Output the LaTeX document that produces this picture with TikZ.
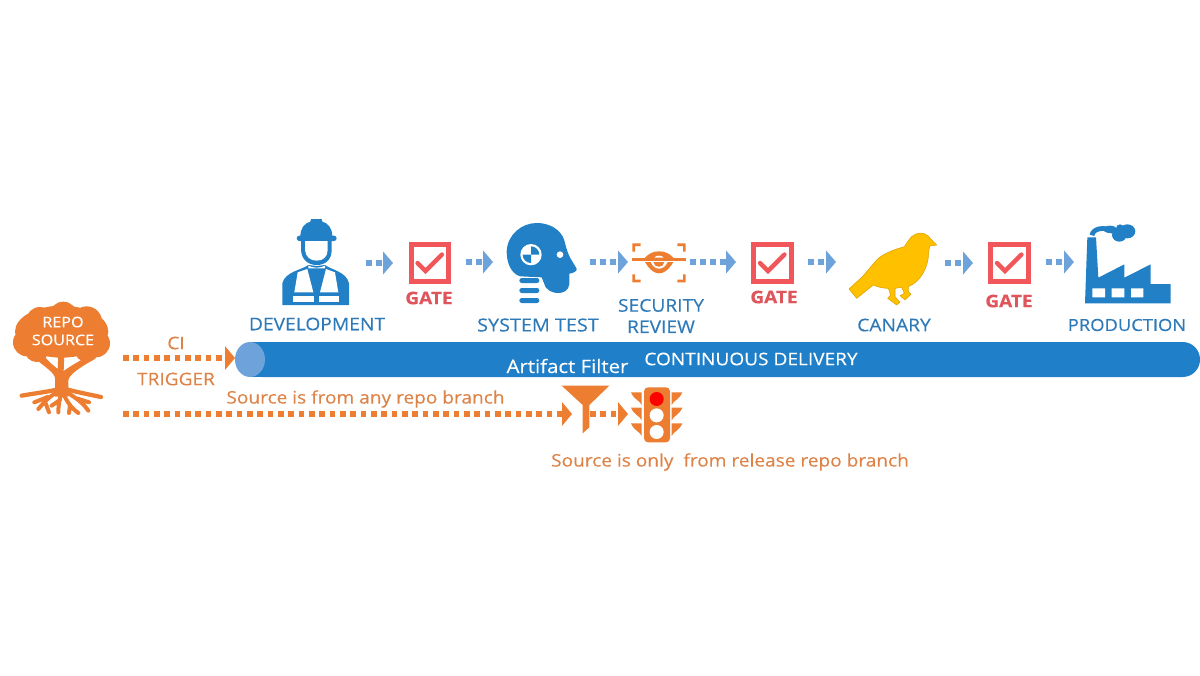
\documentclass[tikz,border=0pt]{standalone}
\usepackage{fontspec}
\setmainfont[FakeStretch=1.1,FakeBold=0.25]{Open Sans}
\usetikzlibrary{arrows.meta}
\definecolor{org}{HTML}{ED7D31}
\definecolor{orgtxt}{HTML}{DD8348}
\definecolor{pipe}{HTML}{1F7FC8}
\definecolor{lblue}{HTML}{6DA3DA}
\definecolor{iblue}{HTML}{2280C6}
\definecolor{txtblue}{HTML}{2E7AB8}
\definecolor{redg}{HTML}{F0565A}
\definecolor{redt}{HTML}{E0555C}
\definecolor{bird}{HTML}{FFC000}
\tikzset{
  zoomed/.style 2 args={shift={(#1,#2)},x=0.25pt,y=-0.25pt},
  flowarrow/.style={draw=lblue,line width=3.9pt,dash pattern=on 4.5pt off 3pt,
    -{Triangle[length=7.5pt,width=17pt,fill=lblue]}},
  orgarrow/.style={draw=org,line width=4.2pt,dash pattern=on 4.2pt off 3.55pt,
    -{Triangle[length=7.5pt,width=17.5pt,fill=org]}},
  stage/.style={text=txtblue,font=\fontsize{13.1}{15}\selectfont,inner sep=0pt,align=center},
  gatelabel/.style={text=redt,font=\fontsize{13}{15}\selectfont\bfseries,inner sep=0pt},
  orglabel/.style={text=orgtxt,font=\fontsize{13}{15}\selectfont,inner sep=0pt},
  whitelabel/.style={text=white,font=\fontsize{13}{15}\selectfont,inner sep=0pt},
  gatebox/.style={draw=redg,line width=3.8pt,fill=white,minimum size=28pt,inner sep=0pt},
  gatecheck/.style={draw=redg,line width=3.2pt,line cap=round,line join=miter},
}
\begin{document}
\begin{tikzpicture}[x=0.75pt,y=-0.75pt]
\useasboundingbox (0,0) rectangle (1200,675);
% pipe
\fill[pipe,rounded corners=13pt] (245,342) rectangle (1200,377);
\fill[pipe] (250,342) rectangle (300,377);
\fill[lblue] (250,359.5) ellipse (15 and 17.5);
\node[whitelabel,font=\fontsize{13.9}{15}\selectfont] (filter) at (567.5,366) {Artifact Filter};
\node[whitelabel] (cd) at (751,359) {CONTINUOUS DELIVERY};
% tree
\begin{scope}[zoomed={5}{295}]
  \fill[org] (170,110) ellipse (140 and 78)
    (175,62) circle (42) (105,78) circle (42) (245,80) circle (46)
    (66,142) circle (42) (273,145) circle (42) (95,165) circle (36) (245,165) circle (36);
  \fill[org] (150,305) -- (150,250) .. controls (150,235) and (120,215) .. (95,195) -- (115,180)
    .. controls (130,200) and (150,215) .. (158,222) -- (160,180) -- (178,180) -- (176,228)
    .. controls (200,210) and (230,195) .. (262,175) -- (272,190)
    .. controls (230,215) and (195,235) .. (190,255) -- (190,305) -- cycle;
  \draw[org,line width=3.2pt,line cap=round]
    (50,302) .. controls (90,295) and (130,290) .. (160,283)
    (288,306) .. controls (250,298) and (210,290) .. (185,283);
  \draw[org,line width=3pt,line cap=round]
    (160,290) .. controls (130,305) and (115,325) .. (100,342)
    (128,306) -- (88,322)
    (122,325) -- (132,352)
    (170,290) .. controls (165,310) and (160,325) .. (160,352)
    (165,315) -- (140,332)
    (175,295) .. controls (185,320) and (200,340) .. (220,354)
    (195,330) -- (192,354)
    (190,295) .. controls (215,310) and (235,325) .. (250,347)
    (215,310) -- (252,322);
\end{scope}
\node[text=white,font=\fontsize{11}{13.4}\selectfont,inner sep=0pt,align=center] (repo) at (63,331) {REPO\\SOURCE};
% CI
\coordinate (ciS) at (123,358);
\coordinate (ciE) at (235,358);
\draw[orgarrow] (ciS) -- (ciE);
\node[orglabel] (ci) at (176,343) {CI};
\node[orglabel] (trigger) at (176,379) {TRIGGER};
\node[orglabel] (anyb) at (365.5,399) {Source is from any repo branch};
\coordinate (brS) at (123,414);
\coordinate (brE) at (572,414);
\draw[orgarrow] (brS) -- (brE);
\coordinate (fS) at (590,414);
\coordinate (fE) at (628,414);
\draw[orgarrow] (fS) -- (fE);
\begin{scope}[zoomed={490}{340}]
  \fill[org] (215,137) -- (358,137) -- (298,195) -- (298,262) -- (278,280) -- (278,195) -- cycle;
  \fill[org,rounded corners=3pt] (462,142) rectangle (540,307);
  \fill[red] (500,177) circle (21);
  \fill[white] (500,226) circle (21) (500,276) circle (21);
  \foreach \yy in {157,203,250}{
    \fill[org] (423,\yy) -- (455,\yy) -- (455,\yy+38) .. controls (450,\yy+25) and (432,\yy+22) .. cycle;
    \fill[org] (577,\yy) -- (545,\yy) -- (545,\yy+38) .. controls (550,\yy+25) and (568,\yy+22) .. cycle;
  }
\end{scope}
\node[orglabel] (rel) at (730,462) {Source is only\ \ from release repo branch};
% developer
\begin{scope}[zoomed={275}{215}]
  \fill[iblue] (76,65) .. controls (76,38) and (90,24) .. (106,20) -- (108,12) -- (140,12) -- (142,20)
     .. controls (158,24) and (172,38) .. (172,65) -- cycle;
  \fill[iblue,rounded corners=2pt] (65,62) rectangle (185,78);
  \fill[iblue] (78,78) -- (78,105) .. controls (80,135) and (100,150) .. (125,150)
     .. controls (150,150) and (170,135) .. (170,105) -- (170,78) -- cycle;
  \fill[white] (90,78) -- (90,105) .. controls (92,125) and (105,137) .. (125,137)
     .. controls (145,137) and (158,125) .. (158,105) -- (158,78) -- cycle;
  \fill[iblue] (100,150) .. controls (80,165) and (30,170) .. (22,205) -- (22,270) -- (222,270) -- (222,205)
     .. controls (214,170) and (170,165) .. (150,150) -- (125,153) -- cycle;
  \fill[white] (68,172) -- (97,162) -- (115,232) -- (58,232) -- cycle;
  \fill[white] (180,172) -- (153,162) -- (135,232) -- (190,232) -- cycle;
  \fill[white] (55,242) rectangle (116,262);
  \fill[white] (132,242) rectangle (192,262);
  \fill[white] (100,152) .. controls (115,160) and (135,160) .. (150,152) -- (150,160) -- (100,160) -- cycle;
\end{scope}
% head
\begin{scope}[zoomed={500}{218}]
  \fill[iblue] (125,178) -- (60,175) .. controls (30,165) and (20,130) .. (20,100)
    .. controls (22,50) and (65,15) .. (110,15)
    .. controls (160,15) and (190,45) .. (195,75)
    .. controls (200,95) and (205,110) .. (212,122)
    -- (230,152) .. controls (232,160) and (220,165) .. (208,167)
    .. controls (208,190) and (212,210) .. (195,220)
    .. controls (175,230) and (150,225) .. (137,208) -- cycle;
  \fill[white] (93,110) circle (32);
  \fill[iblue] (93,110) -- (93,85) arc[start angle=270,delta angle=90,radius=25] -- cycle;
  \fill[iblue] (93,110) -- (93,135) arc[start angle=90,delta angle=90,radius=25] -- cycle;
  \fill[white] (180,110) circle (10);
  \fill[iblue,rounded corners=1.8pt] (58,180) rectangle (118,195);
  \fill[iblue,rounded corners=1.8pt] (58,210) rectangle (118,225);
  \fill[iblue,rounded corners=1.8pt] (58,240) rectangle (118,255);
\end{scope}
% security eye
\begin{scope}[zoomed={625}{235}]
  \fill[org] (22,25) rectangle (47,33) (22,25) rectangle (30,50);
  \fill[org] (182,25) rectangle (157,33) (182,25) rectangle (174,50);
  \fill[org] (22,142) rectangle (47,134) (22,142) rectangle (30,118);
  \fill[org] (182,142) rectangle (157,134) (182,142) rectangle (174,118);
  \fill[org] (58,70) .. controls (72,55) and (85,49) .. (102,49) .. controls (120,49) and (133,55) .. (147,70) -- cycle;
  \fill[white] (88,68) .. controls (92,60) and (112,60) .. (116,68) -- cycle;
  \fill[org] (20,69) rectangle (183,77);
  \fill[org] (60,81) .. controls (75,107) and (90,115) .. (102,115) .. controls (115,115) and (130,107) .. (145,81) -- (128,81) .. controls (122,96) and (112,101) .. (102,101) .. controls (92,101) and (82,96) .. (77,81) -- cycle;
  \fill[org] (85,81) -- (118,81) .. controls (116,100) and (88,100) .. (85,81) -- cycle;
\end{scope}
% canary
\begin{scope}[zoomed={845}{225}]
  \fill[bird,draw=bird!85!black,line width=.4pt,line join=round]
    (275,60) .. controls (265,50) and (255,40) .. (250,33)
    .. controls (235,20) and (215,22) .. (200,35)
    .. controls (190,45) and (185,55) .. (178,65)
    .. controls (155,72) and (125,80) .. (100,100)
    .. controls (85,115) and (70,135) .. (52,155)
    -- (12,192) -- (35,220) -- (85,180)
    .. controls (100,187) and (115,190) .. (130,190)
    -- (137,210) -- (128,220) -- (155,240) -- (165,232) -- (150,215) -- (150,190)
    -- (170,187) -- (178,205) -- (165,212) -- (180,225) -- (198,208) -- (190,200) -- (190,185)
    .. controls (228,170) and (248,125) .. (250,95)
    .. controls (251,80) and (252,70) .. (255,63) -- cycle;
\end{scope}
% factory
\begin{scope}[zoomed={930}{210}]
  \fill[iblue] (465,280) -- (472,82) -- (498,82) -- (505,203) -- (583,163) -- (583,203) -- (662,163)
     -- (662,222) -- (722,222) -- (722,280) -- cycle;
  \fill[white] (487,235) rectangle (525,262) (545,235) rectangle (583,262) (603,235) rectangle (640,262);
  \draw[iblue,line width=3.6pt] (486,76) .. controls (488,55) and (525,48) .. (550,65);
  \fill[iblue] (540,58) ellipse (20 and 11) (568,75) ellipse (22 and 20) (592,64) ellipse (24 and 21) (570,55) circle (12);
\end{scope}
% gates
\node[gatebox] (g1) at (430,263) {};
\node[gatebox] (g2) at (772.5,263) {};
\node[gatebox] (g3) at (1009.5,263) {};
\draw[gatecheck] (417.5,263) -- (425.5,271) -- (442,254.5);
\draw[gatecheck] (760,263) -- (768,271) -- (784.5,254.5);
\draw[gatecheck] (997,263) -- (1005,271) -- (1021.5,254.5);
\node[gatelabel] (g1t) at (429,298) {GATE};
\node[gatelabel] (g2t) at (774,297) {GATE};
\node[gatelabel] (g3t) at (1009,301) {GATE};
% stage labels
\node[stage] (dev) at (317,324) {DEVELOPMENT};
\node[stage,font=\fontsize{13.5}{15}\selectfont] (sys) at (538,325) {SYSTEM TEST};
\node[stage] (sec) at (661,316) {SECURITY\\[1pt]REVIEW};
\node[stage] (can) at (894,325) {CANARY};
\node[stage,font=\fontsize{12.5}{15}\selectfont] (prod) at (1127,325) {PRODUCTION};
% flow arrows
\foreach \i/\a/\b/\yy in {1/366/393/263,2/466/493/262,3/590/628/262,4/690/736/262,5/808/836/262,6/945/973/263,7/1046/1074/262}{
  \coordinate (fl\i s) at (\a,\yy);
  \coordinate (fl\i e) at (\b,\yy);
  \draw[flowarrow] (fl\i s) -- (fl\i e);
}
\end{tikzpicture}
\end{document}
